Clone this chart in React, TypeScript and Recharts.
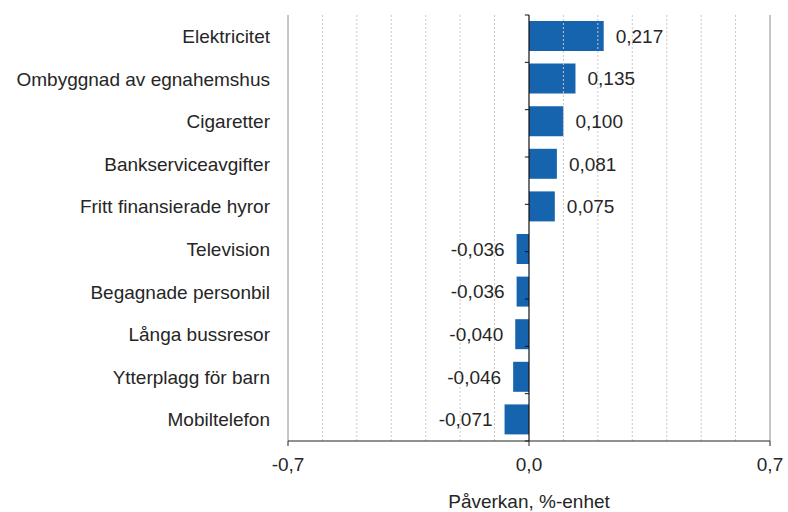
import React from "react";
import {
  BarChart,
  Bar,
  XAxis,
  YAxis,
  ReferenceLine,
  LabelList,
} from "recharts";

const categories = [
  "Elektricitet",
  "Ombyggnad av egnahemshus",
  "Cigaretter",
  "Bankserviceavgifter",
  "Fritt finansierade hyror",
  "Television",
  "Begagnade personbil",
  "Långa bussresor",
  "Ytterplagg för barn",
  "Mobiltelefon",
];
const values = [0.217, 0.135, 0.1, 0.081, 0.075, -0.036, -0.036, -0.04, -0.046, -0.071];
const xTicks = [-0.7, 0, 0.7];
const gridTicks = [-0.6, -0.5, -0.4, -0.3, -0.2, -0.1, 0.1, 0.2, 0.3, 0.4, 0.5, 0.6];
const boundaries = [0, 1, 2, 3, 4, 5, 6, 7, 8, 9, 10];

const data = categories.map((name, i) => ({ name, value: values[i] }));

const font = "'Liberation Sans', Arial, sans-serif";
const fontSize = 19;
const textColor = "#262626";
const fmt = (v: number, digits: number) => v.toFixed(digits).replace(".", ",");

const ValueLabel = (props: any) => {
  const { x, y, width, height, value } = props;
  const left = Math.min(x, x + width);
  const right = Math.max(x, x + width);
  const pos = value >= 0;
  return (
    <text
      x={pos ? right + 12 : left - 12}
      y={y + height / 2}
      dy="0.355em"
      textAnchor={pos ? "start" : "end"}
      fill={textColor}
      fontSize={fontSize}
      fontFamily={font}
    >
      {fmt(value, 3)}
    </text>
  );
};

export default function App() {
  return (
    <div style={{ position: "absolute", left: 0, top: 0, background: "#fff" }}>
      <BarChart
        width={788}
        height={512}
        data={data}
        layout="vertical"
        margin={{ top: 15, right: 18, bottom: 0, left: 0 }}
      >
        <XAxis
          type="number"
          domain={[-0.7, 0.7]}
          ticks={xTicks}
          tickFormatter={(v: number) => fmt(v, 1)}
          axisLine={{ stroke: "#222" }}
          tickLine={{ stroke: "#222" }}
          tickSize={5}
          tickMargin={12}
          height={71}
          tick={{ fill: textColor, fontSize, fontFamily: font }}
          label={{
            value: "Påverkan, %-enhet",
            position: "insideBottom",
            offset: 4,
            fill: textColor,
            fontSize,
            fontFamily: font,
          }}
        />
        <YAxis
          yAxisId="cat"
          type="category"
          dataKey="name"
          width={288}
          axisLine={false}
          tickLine={false}
          tickMargin={12}
          interval={0}
          tick={{ fill: textColor, fontSize, fontFamily: font }}
        />
        <YAxis yAxisId="num" type="number" domain={[0, 10]} hide />
        {gridTicks.map((t) => (
          <ReferenceLine
            key={t}
            x={t}
            yAxisId="cat"
            stroke="#c8c8c8"
            strokeDasharray="2 2"
          />
        ))}
        <ReferenceLine x={-0.7} yAxisId="cat" stroke="#8c8c8c" />
        <ReferenceLine x={0.7} yAxisId="cat" stroke="#8c8c8c" />
        <Bar
          yAxisId="cat"
          dataKey="value"
          fill="#1764ae"
          barSize={30}
          isAnimationActive={false}
        >
          <LabelList dataKey="value" content={ValueLabel} />
        </Bar>
        <ReferenceLine x={0} yAxisId="cat" stroke="#111" strokeWidth={1.2} />
        {boundaries.map((b) => (
          <ReferenceLine
            key={b}
            yAxisId="num"
            segment={[
              { x: -0.012, y: b },
              { x: 0, y: b },
            ]}
            stroke="#111"
          />
        ))}
      </BarChart>
    </div>
  );
}
